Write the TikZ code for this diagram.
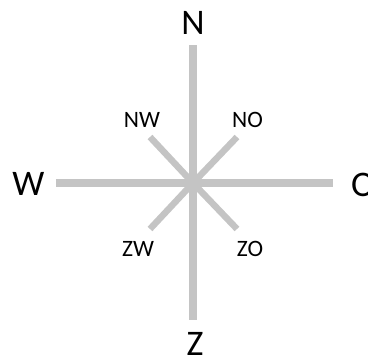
\documentclass[tikz,border=0pt]{standalone}
\usepackage{fontspec}
\setmainfont{Carlito}
\usetikzlibrary{positioning}
\definecolor{rosegray}{RGB}{196,196,196}

\begin{document}
\begin{tikzpicture}[x=1pt,y=-1pt,
    mainarm/.style={draw=rosegray,line width=8pt},
    diagarm/.style={draw=rosegray,line width=6.5pt},
    bigwind/.style={inner sep=0pt,font=\fontsize{36}{40}\selectfont},
    smallwind/.style={inner sep=0pt,font=\fontsize{23.5}{26}\selectfont}]
        \useasboundingbox (0,0) rectangle (368,359);
        % arm ends
        \coordinate (c) at (193,183);
        \coordinate (n) at (193,45);  \coordinate (z) at (193,320);
        \coordinate (w) at (56,183);  \coordinate (o) at (333,183);
        \coordinate (nw) at (150,137); \coordinate (no) at (237,137);
        \coordinate (zw) at (150,229); \coordinate (zo) at (237,229);
        \draw[diagarm] (nw)--(c); \draw[diagarm] (no)--(c);
        \draw[diagarm] (zw)--(c); \draw[diagarm] (zo)--(c);
        \draw[mainarm] (n)--(z);
        \draw[mainarm] (w)--(o);
        % labels
        \node[bigwind] (lN) at (193,22.5) {N};
        \node[bigwind] (lZ) at (195,344) {Z};
        \node[bigwind] (lW) at (28.5,184) {W};
        \node[bigwind] (lO) at (363,185) {O};
        \node[smallwind] (lNW) at (142,119.5) {NW};
        \node[smallwind] (lNO) at (247.5,119.5) {NO};
        \node[smallwind] (lZW) at (138,248.5) {ZW};
        \node[smallwind] (lZO) at (250,248.5) {ZO};
      \end{tikzpicture}
\end{document}
